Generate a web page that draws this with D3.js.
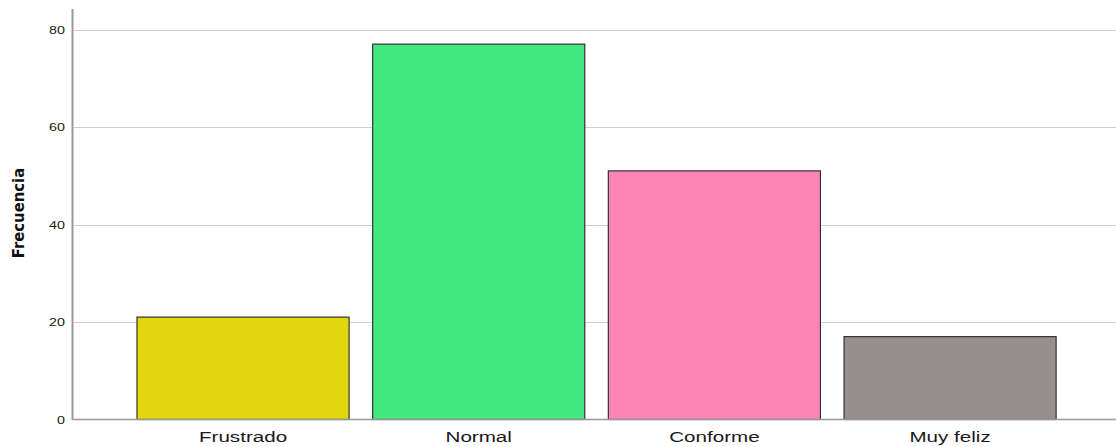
<!DOCTYPE html>
<html><head><meta charset="utf-8">
<script src="https://cdn.jsdelivr.net/npm/d3@7"></script>
<style>body{margin:0;background:#fff;} svg{display:block;}</style>
</head><body>
<svg id="c" width="1116" height="447"></svg>
<script>
const categories = ["Frustrado", "Normal", "Conforme", "Muy feliz"];
const values = [21, 77, 51, 17];
const colors = ["#e2d70f", "#42e97f", "#ff85b6", "#958f8e"];
const yTicks = [0, 20, 40, 60, 80];

const svg = d3.select("#c");
const axisX = 72.5, baseY = 419.5, topY = 9;
const y = d3.scaleLinear().domain([0, 80]).range([baseY, 29.5]);
const x = d3.scaleBand().domain(categories).range([125.2, 1067.9]).paddingInner(0.1).paddingOuter(0.05);

// gridlines
svg.append("g").selectAll("line").data(yTicks.filter(d => d > 0)).join("line")
  .attr("x1", axisX).attr("x2", 1116)
  .attr("y1", d => Math.round(y(d)) + 0.5).attr("y2", d => Math.round(y(d)) + 0.5)
  .attr("stroke", "#d0d0d0").attr("stroke-width", 1);

// bars
svg.append("g").selectAll("rect").data(values).join("rect")
  .attr("x", (d, i) => x(categories[i]))
  .attr("y", d => y(d))
  .attr("width", x.bandwidth())
  .attr("height", d => baseY - y(d))
  .attr("fill", (d, i) => colors[i])
  .attr("stroke", "#333").attr("stroke-width", 1.2);

// baseline
svg.append("line").attr("x1", axisX).attr("x2", 1116).attr("y1", baseY).attr("y2", baseY)
  .attr("stroke", "#999").attr("stroke-width", 1.5);

// y axis
const sy = 1.3;
const yAxis = d3.axisLeft(y).tickValues(yTicks).tickSize(0).tickPadding(0);
const gy = svg.append("g").attr("transform", `translate(${axisX},0)`).call(yAxis);
gy.select(".domain").remove();
gy.selectAll(".tick line").remove();
gy.selectAll("text").attr("font-family", "Liberation Sans, Arial, sans-serif").attr("font-size", 11).attr("fill", "#1a1a1a")
  .attr("x", -7.5 / sy).attr("transform", `scale(${sy},1)`);
svg.append("line").attr("x1", axisX).attr("x2", axisX).attr("y1", topY).attr("y2", baseY + 0.5)
  .attr("stroke", "#999").attr("stroke-width", 2);

// x axis labels
const sx = 1.33;
const xAxis = d3.axisBottom(x).tickSize(0).tickPadding(11);
const gx = svg.append("g").attr("transform", `translate(0,${baseY})`).call(xAxis);
gx.select(".domain").remove();
gx.selectAll("text").attr("font-family", "Liberation Sans, Arial, sans-serif").attr("font-size", 15.5).attr("fill", "#1a1a1a")
  .attr("transform", `scale(${sx},1)`);

// y label
svg.append("text").attr("transform", `translate(24,213) rotate(-90)`)
  .attr("text-anchor", "middle")
  .attr("font-family", "Liberation Sans Narrow, DejaVu Sans Condensed, Arial Narrow, sans-serif")
  .attr("font-weight", "bold").attr("font-size", 16.5).attr("fill", "#111")
  .text("Frecuencia");
</script>
</body></html>
